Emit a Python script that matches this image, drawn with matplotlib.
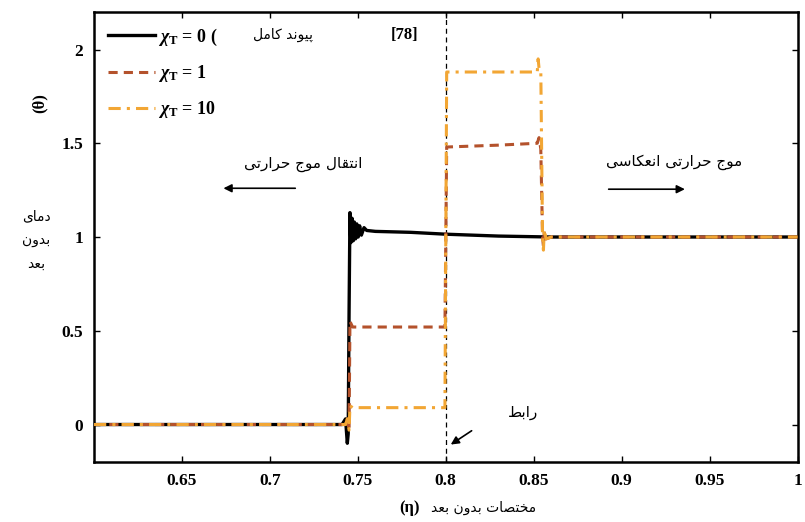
import matplotlib
matplotlib.use("Agg")
import matplotlib.pyplot as plt

# contextual forms for the Persian letters used in the labels
FORMS = {
    'ا': ('\uFE8D', '\uFE8E', None, None),
    'ب': ('\uFE8F', '\uFE90', '\uFE91', '\uFE92'),
    'پ': ('\uFB56', '\uFB57', '\uFB58', '\uFB59'),
    'ت': ('\uFE95', '\uFE96', '\uFE97', '\uFE98'),
    'ج': ('\uFE9D', '\uFE9E', '\uFE9F', '\uFEA0'),
    'ح': ('\uFEA1', '\uFEA2', '\uFEA3', '\uFEA4'),
    'خ': ('\uFEA5', '\uFEA6', '\uFEA7', '\uFEA8'),
    'د': ('\uFEA9', '\uFEAA', None, None),
    'ر': ('\uFEAD', '\uFEAE', None, None),
    'س': ('\uFEB1', '\uFEB2', '\uFEB3', '\uFEB4'),
    'ص': ('\uFEB9', '\uFEBA', '\uFEBB', '\uFEBC'),
    'ط': ('\uFEC1', '\uFEC2', '\uFEC3', '\uFEC4'),
    'ع': ('\uFEC9', '\uFECA', '\uFECB', '\uFECC'),
    'ق': ('\uFED5', '\uFED6', '\uFED7', '\uFED8'),
    'ک': ('\uFB8E', '\uFB8F', '\uFB90', '\uFB91'),
    'ل': ('\uFEDD', '\uFEDE', '\uFEDF', '\uFEE0'),
    'م': ('\uFEE1', '\uFEE2', '\uFEE3', '\uFEE4'),
    'ن': ('\uFEE5', '\uFEE6', '\uFEE7', '\uFEE8'),
    'و': ('\uFEED', '\uFEEE', None, None),
    'ی': ('\uFBFC', '\uFBFD', '\uFBFE', '\uFBFF'),
}


def fa(text):
    out = []
    for i, ch in enumerate(text):
        f = FORMS.get(ch)
        if f is None:
            out.append(ch)
            continue
        prev = text[i - 1] if i > 0 else ''
        nxt = text[i + 1] if i < len(text) - 1 else ''
        jp = prev in FORMS and FORMS[prev][2] is not None
        jn = f[2] is not None and nxt in FORMS
        if jp and jn:
            out.append(f[3])
        elif jp:
            out.append(f[1])
        elif jn:
            out.append(f[2])
        else:
            out.append(f[0])
    return ''.join(reversed(out))


# chi_T = 0
x0 = [0.6, 0.741, 0.743, 0.744, 0.7445, 0.745, 0.7455, 0.746, 0.7467, 0.7474, 0.748, 0.7487, 0.7494,
      0.7502, 0.751, 0.752, 0.7535, 0.755, 0.76, 0.78, 0.8, 0.83, 0.86, 0.9, 1.0]
y0 = [0.0, 0.0, 0.03, -0.1, -0.05, 0.6, 1.13, 0.97, 1.1, 0.98, 1.08, 0.99, 1.07,
      1.0, 1.06, 1.01, 1.05, 1.035, 1.03, 1.025, 1.015, 1.005, 1.0, 1.0, 1.0]

# chi_T = 1
x1 = [0.6, 0.743, 0.744, 0.745, 0.7455, 0.747, 0.77, 0.7995, 0.8, 0.8005, 0.83, 0.852, 0.853,
      0.854, 0.855, 0.8555, 0.856, 0.857, 0.86, 0.9, 1.0]
y1 = [0.0, 0.0, 0.04, -0.03, 0.55, 0.52, 0.52, 0.52, 1.0, 1.48, 1.49, 1.5, 1.53,
      1.47, 1.0, 0.95, 1.03, 0.99, 1.0, 1.0, 1.0]

# chi_T = 10
x10 = [0.6, 0.743, 0.744, 0.745, 0.7455, 0.747, 0.77, 0.7995, 0.8, 0.8005, 0.83, 0.852, 0.8525,
       0.853, 0.854, 0.855, 0.8555, 0.856, 0.857, 0.86, 0.9, 1.0]
y10 = [0.0, 0.0, 0.03, -0.03, 0.1, 0.09, 0.09, 0.09, 1.0, 1.88, 1.88, 1.88, 1.95,
       1.9, 1.89, 1.0, 0.93, 1.04, 0.99, 1.0, 1.0, 1.0]

xticks = [0.65, 0.7, 0.75, 0.8, 0.85, 0.9, 0.95, 1.0]
xticklabels = ['0.65', '0.7', '0.75', '0.8', '0.85', '0.9', '0.95', '1']
yticks = [0, 0.5, 1, 1.5, 2]
yticklabels = ['0', '0.5', '1', '1.5', '2']

plt.rcParams['mathtext.fontset'] = 'custom'
plt.rcParams['mathtext.rm'] = 'Liberation Serif:bold'
plt.rcParams['mathtext.it'] = 'Liberation Serif:italic:bold'
plt.rcParams['mathtext.bf'] = 'Liberation Serif:bold'

serif = dict(family='Liberation Serif', weight='bold')
arab = dict(family='DejaVu Sans')

fig = plt.figure(figsize=(8.05, 5.22), dpi=100)
ax = fig.add_axes([0.1168, 0.1149, 0.874, 0.8621])

ax.axvline(0.8, color='black', ls=(0, (4, 3)), lw=0.9, zorder=1)
ax.plot(x0, y0, color='black', lw=2.4, label=r'$\chi_\mathrm{T}$ = 0 (', zorder=2)
ax.plot(x1, y1, color='#b4522c', lw=2.2, ls=(0, (3, 2)), label=r'$\chi_\mathrm{T}$ = 1', zorder=3)
ax.plot(x10, y10, color='#f2a634', lw=2.2, ls=(0, (4, 2, 1, 2)), label=r'$\chi_\mathrm{T}$ = 10', zorder=4)

ax.set_xlim(0.6, 1.0)
ax.set_ylim(-0.2, 2.2)
ax.set_xticks(xticks)
ax.set_xticklabels(xticklabels, **serif, fontsize=12.5)
ax.set_yticks(yticks)
ax.set_yticklabels(yticklabels, **serif, fontsize=12.5)
ax.tick_params(direction='in', length=4, width=1, top=True, right=True, pad=8)
for s in ax.spines.values():
    s.set_linewidth(1.8)

leg = ax.legend(loc='upper left', frameon=False, handlelength=2.6, handletextpad=0.15,
                labelspacing=0.85, borderaxespad=0.15, borderpad=0.65,
                prop={'family': 'Liberation Serif', 'weight': 'bold', 'size': 13})

ax.text(0.7074, 2.08, fa('پیوند کامل'), ha='center', va='center', fontsize=10, **arab)
ax.text(0.7766, 2.08, '[78]', ha='center', va='center', fontsize=12, **serif)

ax.text(0.719, 1.39, fa('انتقال موج حرارتی'), ha='center', va='center', fontsize=11, **arab)
ax.annotate('', xy=(0.672, 1.26), xytext=(0.716, 1.26),
            arrowprops=dict(arrowstyle='-|>', color='black', lw=1.2, mutation_scale=12))
ax.text(0.930, 1.40, fa('موج حرارتی انعکاسی'), ha='center', va='center', fontsize=11, **arab)
ax.annotate('', xy=(0.9375, 1.255), xytext=(0.891, 1.255),
            arrowprops=dict(arrowstyle='-|>', color='black', lw=1.2, mutation_scale=12))
ax.text(0.844, 0.065, fa('رابط'), ha='center', va='center', fontsize=11, **arab)
ax.annotate('', xy=(0.8015, -0.115), xytext=(0.816, -0.025),
            arrowprops=dict(arrowstyle='-|>', color='black', lw=1.2, mutation_scale=12))

fig.text(36 / 805, 1 - 240 / 522, '\n'.join(fa(w) for w in ['دمای', 'بدون', 'بعد']),
         ha='center', va='center', fontsize=10, linespacing=1.9, **arab)
fig.text(40 / 805, 1 - 103 / 522, '(θ)', ha='center', va='center', rotation=90, fontsize=12, **serif)
fig.text(410 / 805, 1 - 508 / 522, '(η)', ha='center', va='center', fontsize=12, **serif)
fig.text(484 / 805, 1 - 508 / 522, fa('مختصات بدون بعد'), ha='center', va='center', fontsize=10, **arab)

fig.savefig('out.png', dpi=100)
